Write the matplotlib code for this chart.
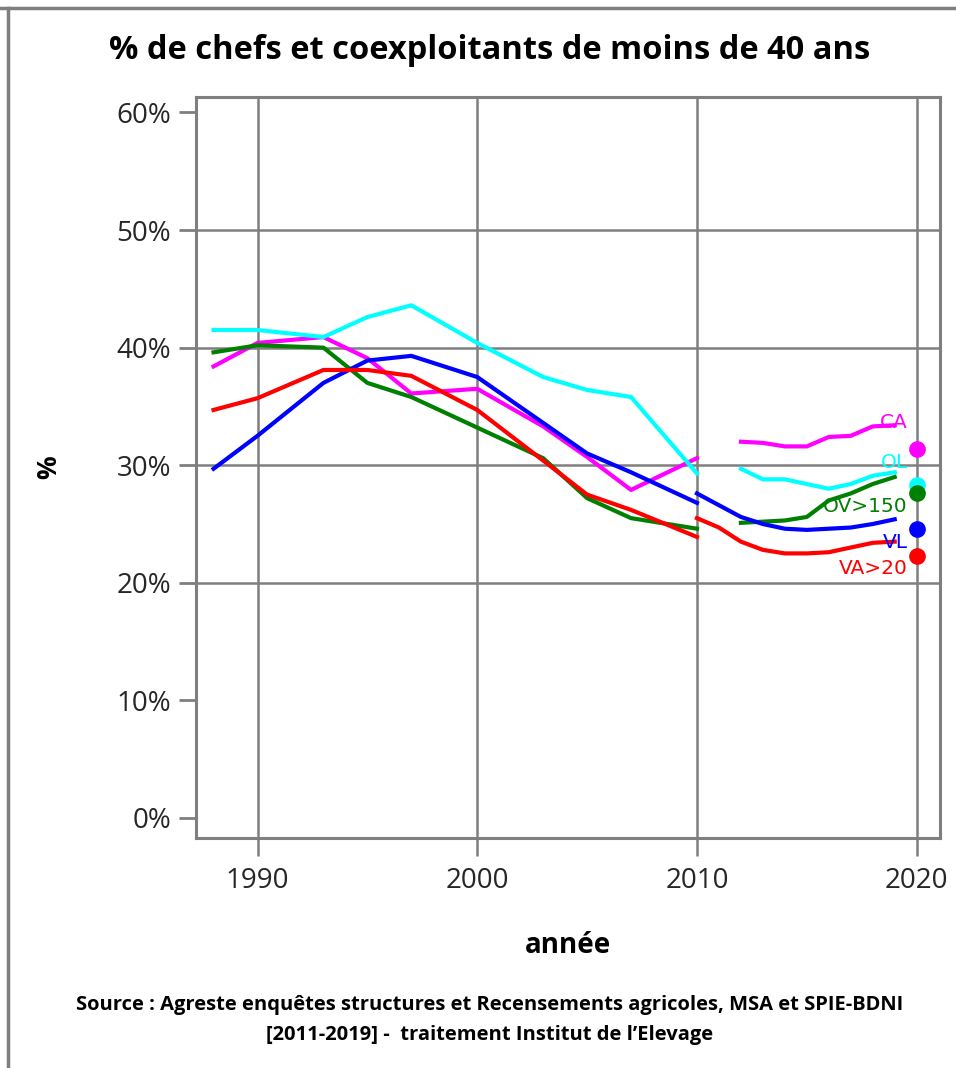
import matplotlib
matplotlib.use("Agg")
import matplotlib.pyplot as plt
from matplotlib.lines import Line2D

# données (en %)
annees_a = [1988, 1990, 1993, 1995, 1997, 2000, 2003, 2005, 2007, 2010]
ca_a = [38.4, 40.4, 40.9, 39.1, 36.1, 36.5, 33.3, 30.7, 27.9, 30.6]
ol_a = [41.5, 41.5, 40.9, 42.6, 43.6, 40.4, 37.5, 36.4, 35.8, 29.3]
ov_a = [39.6, 40.2, 40.0, 37.0, 35.8, 33.2, 30.6, 27.2, 25.5, 24.6]
vl_a = [29.7, 32.5, 37.0, 38.9, 39.3, 37.5, 33.6, 31.0, 29.4, 26.8]
va_a = [34.7, 35.7, 38.1, 38.1, 37.6, 34.7, 30.4, 27.5, 26.2, 23.9]

annees_b = [2012, 2013, 2014, 2015, 2016, 2017, 2018, 2019]
ca_b = [32.0, 31.9, 31.6, 31.6, 32.4, 32.5, 33.3, 33.4]
ol_b = [29.7, 28.8, 28.8, 28.4, 28.0, 28.4, 29.1, 29.4]
ov_b = [25.1, 25.2, 25.3, 25.6, 27.0, 27.6, 28.4, 29.0]

annees_c = [2010, 2011, 2012, 2013, 2014, 2015, 2016, 2017, 2018, 2019]
vl_c = [27.6, 26.6, 25.6, 25.0, 24.6, 24.5, 24.6, 24.7, 25.0, 25.4]
va_c = [25.5, 24.7, 23.5, 22.8, 22.5, 22.5, 22.6, 23.0, 23.4, 23.5]

annee_2020 = 2020
points_2020 = {"CA": 31.4, "OL": 28.3, "OV>150": 27.6, "VL": 24.6, "VA>20": 22.3}
couleurs = {"CA": "#ff00ff", "OL": "#00ffff", "OV>150": "#008000", "VL": "#0000ff", "VA>20": "#ff0000"}
pos_etiquettes = {"CA": 33.6, "OL": 30.2, "OV>150": 26.5, "VL": 23.4, "VA>20": 21.2}

gris = "#7f7f7f"
plt.rcParams['font.family'] = ['Open Sans', 'DejaVu Sans']

fig = plt.figure(figsize=(9.56, 10.68), dpi=100)
ax = fig.add_axes([0.205, 0.2154, 0.778, 0.6936])

lw = 3.0
ax.plot(annees_a, ca_a, color=couleurs["CA"], lw=lw)
ax.plot(annees_a, ol_a, color=couleurs["OL"], lw=lw)
ax.plot(annees_a, ov_a, color=couleurs["OV>150"], lw=lw)
ax.plot(annees_a, vl_a, color=couleurs["VL"], lw=lw)
ax.plot(annees_a, va_a, color=couleurs["VA>20"], lw=lw)

ax.plot(annees_b, ca_b, color=couleurs["CA"], lw=lw)
ax.plot(annees_b, ol_b, color=couleurs["OL"], lw=lw)
ax.plot(annees_b, ov_b, color=couleurs["OV>150"], lw=lw)
ax.plot(annees_c, vl_c, color=couleurs["VL"], lw=lw)
ax.plot(annees_c, va_c, color=couleurs["VA>20"], lw=lw)

for nom, val in points_2020.items():
    ax.plot(annee_2020, val, 'o', color=couleurs[nom], ms=11, zorder=5)
    ax.text(2019.6, pos_etiquettes[nom], nom, color=couleurs[nom], fontsize=14.5,
            ha='right', va='center', family='DejaVu Sans')

ax.set_xlim(1987.2, 2021.05)
ax.set_ylim(-1.7, 61.3)

ax.set_yticks([0, 10, 20, 30, 40, 50, 60])
ax.set_yticklabels(["0%", "10%", "20%", "30%", "40%", "50%", "60%"])
ax.set_xticks([1990, 2000, 2010, 2020])

for y in [20, 30, 40, 50]:
    ax.axhline(y, color=gris, lw=1.8, zorder=0)
for x in [1990, 2000, 2010, 2020]:
    ax.axvline(x, color=gris, lw=1.8, zorder=0)

for s in ax.spines.values():
    s.set_color(gris)
    s.set_linewidth(2.2)

ax.tick_params(axis='y', length=12, width=2, color=gris, labelsize=20, labelcolor='#262626', pad=6)
ax.tick_params(axis='x', length=13, width=1.8, color=gris, labelsize=20, labelcolor='#262626', pad=8)

ax.set_xlabel("année", fontsize=20, fontweight='bold', labelpad=26)
ax.set_ylabel("%", fontsize=19, fontweight='bold')
ax.yaxis.set_label_coords(-0.18, 0.5)

fig.text(0.512, 0.953, "% de chefs et coexploitants de moins de 40 ans",
         ha='center', va='center', fontsize=23.5, fontweight='bold')
fig.text(0.512, 0.059, "Source : Agreste enquêtes structures et Recensements agricoles, MSA et SPIE-BDNI",
         ha='center', va='center', fontsize=14.5, fontweight='bold')
fig.text(0.512, 0.031, "[2011-2019] -  traitement Institut de l\u2019Elevage",
         ha='center', va='center', fontsize=14.5, fontweight='bold')

# cadre gris en haut et à gauche
fig.add_artist(Line2D([0, 1], [0.9925, 0.9925], color=gris, lw=2.5, transform=fig.transFigure))
fig.add_artist(Line2D([0.0085, 0.0085], [0, 0.9925], color=gris, lw=2.5, transform=fig.transFigure))

fig.savefig("out.png", dpi=100)
